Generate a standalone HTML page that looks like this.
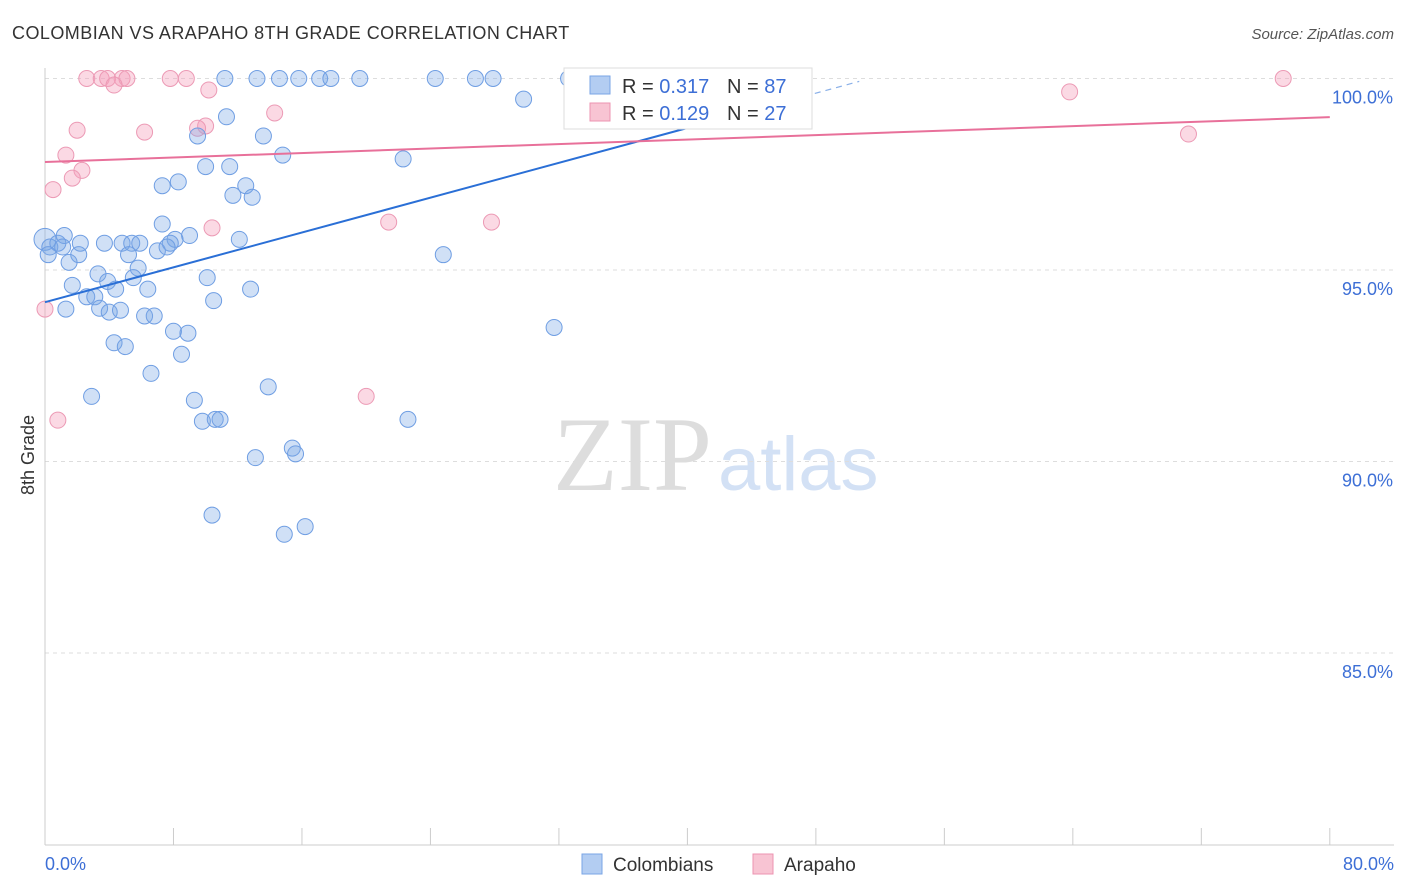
<!DOCTYPE html>
<html><head><meta charset="utf-8"><style>
body{margin:0;background:#fff;font-family:"Liberation Sans",sans-serif;}
#wrap{position:relative;width:1406px;height:892px;overflow:hidden;}
</style></head><body>
<div id="wrap">
<svg id="svg" width="1406" height="892" xmlns="http://www.w3.org/2000/svg">
<text x="12" y="39" font-size="18" fill="#333" letter-spacing="0.45">COLOMBIAN VS ARAPAHO 8TH GRADE CORRELATION CHART</text>
<text x="1394" y="39" font-size="15" fill="#555" font-style="italic" text-anchor="end">Source: ZipAtlas.com</text>
<text x="553" y="490" font-size="106" fill="#ddd" font-family="Liberation Serif,serif">ZIP</text>
<text x="718" y="490" font-size="76" fill="#d3e1f5">atlas</text>
<text transform="translate(34,455) rotate(-90)" font-size="18" fill="#333" text-anchor="middle">8th Grade</text>
<g id="grid"></g><g id="pts"></g><g id="lines"></g>
<g>
<rect x="564" y="68" width="248" height="61" fill="#fff" stroke="#ddd"/>
<rect x="590" y="76" width="20" height="18" fill="#b3cdf2" stroke="#7aa5e6"/>
<text x="622" y="93" font-size="20" fill="#333">R = <tspan fill="#3d6fd6">0.317</tspan></text>
<text x="727" y="93" font-size="20" fill="#333">N = <tspan fill="#3d6fd6">87</tspan></text>
<rect x="590" y="103" width="20" height="18" fill="#f8c4d3" stroke="#ec93b0"/>
<text x="622" y="120" font-size="20" fill="#333">R = <tspan fill="#3d6fd6">0.129</tspan></text>
<text x="727" y="120" font-size="20" fill="#333">N = <tspan fill="#3d6fd6">27</tspan></text>
</g>
<g>
<rect x="582" y="854" width="20" height="20" fill="#b3cdf2" stroke="#7aa5e6"/>
<text x="613" y="871" font-size="19" fill="#333">Colombians</text>
<rect x="753" y="854" width="20" height="20" fill="#f8c4d3" stroke="#ec93b0"/>
<text x="784" y="871" font-size="19" fill="#333">Arapaho</text>
</g>
</svg>
</div>
<script>
const blueX=[11.2,13.2,14.6,15.8,17.1,17.8,19.6,24.3,26.8,27.9,32.6,29.8,11.3,9.5,13.6,14.8,22.3,10.0,11.5,7.3,8.3,12.5,11.7,12.9,7.3,9.0,8.1,7.8,12.1,0,0.3,0.8,1.2,1.1,0.2,2.2,2.1,1.5,3.7,4.8,5.4,5.9,5.2,7.0,7.6,24.8,5.8,3.3,3.9,5.5,10.1,1.7,4.4,6.4,12.8,2.6,3.1,10.5,3.4,4.0,4.7,1.3,6.2,6.8,8.0,8.9,31.7,4.3,5.0,8.5,6.6,13.9,2.9,9.3,9.8,10.6,10.9,22.6,15.4,15.6,13.1,10.4,16.2,14.9];
const blueY=[100,100,100,100,100,100,100,100,100,100,100,99.46,99.0,98.5,98.5,98.0,97.9,97.7,97.7,97.2,97.3,97.2,96.95,96.9,96.2,95.9,95.8,95.7,95.8,95.8,95.6,95.7,95.9,95.6,95.4,95.7,95.4,95.2,95.7,95.7,95.7,95.7,95.4,95.5,95.6,95.4,95.05,94.9,94.7,94.8,94.8,94.6,94.5,94.5,94.5,94.3,94.3,94.2,94.0,93.9,93.95,93.98,93.8,93.8,93.4,93.35,93.5,93.1,93.0,92.8,92.3,91.95,91.7,91.6,91.05,91.1,91.1,91.1,90.35,90.2,90.1,88.6,88.3,88.1];
const pinkX=[2.6,3.5,3.9,4.8,5.1,7.8,8.8,4.3,10.2,77.1,63.8,14.3,2.0,6.2,10.0,9.5,71.2,1.3,2.3,1.7,0.5,21.4,27.8,10.4,0,0.8,20.0];
const pinkY=[100,100,100,100,100,100,100,99.83,99.7,100,99.65,99.1,98.65,98.6,98.76,98.7,98.55,98.0,97.6,97.4,97.1,96.25,96.25,96.1,93.98,91.08,91.7];
const blueTrend=[94.16,0.1137]; const pinkTrend=[97.82,0.01463];
const yTicks=[100,95,90,85]; const yTickLabels=["100.0%","95.0%","90.0%","85.0%"];
const xTicks=[0,8,16,24,32,40,48,56,64,72,80];
const NS="http://www.w3.org/2000/svg";
const sx=v=>45+v*16.06, sy=v=>78.5+(100-v)*38.3;
function mk(t,a,p){const e=document.createElementNS(NS,t);for(const k in a)e.setAttribute(k,a[k]);p.appendChild(e);return e;}
const g=document.getElementById('grid');
yTicks.forEach((t,i)=>{
 const l=mk('line',{x1:45,x2:1394,y1:sy(t),y2:sy(t),stroke:'#ddd','stroke-dasharray':'4,4'},g);
 
 
 const tx=mk('text',{x:1393,y:sy(t)+25,'font-size':18,fill:'#3d6fd6','text-anchor':'end'},g);
 tx.textContent=yTickLabels[i];
 
 
});
const ax=mk('line',{x1:45,x2:45,y1:68,y2:845,stroke:'#ccc'},g);


const bx=mk('line',{x1:45,x2:1394,y1:845,y2:845,stroke:'#ccc'},g);


xTicks.forEach(t=>{const l=mk('line',{x1:sx(t),x2:sx(t),y1:828,y2:845,stroke:'#ccc'},g);
 
 });
[[0,"0.0%",'start',45],[80,"80.0%",'end',1394]].forEach(a=>{const t=mk('text',{x:a[3],y:870,'font-size':18,fill:'#3d6fd6','text-anchor':a[2]},g);t.textContent=a[1];
 
 });
const P=document.getElementById('pts');
pinkX.forEach((x,i)=>{const c=mk('circle',{cx:sx(x),cy:sy(pinkY[i]),r:8,fill:'rgba(244,160,188,0.4)',stroke:'#ec9ab5','stroke-width':1},P);
 
 });
blueX.forEach((x,i)=>{const c=mk('circle',{cx:sx(x),cy:sy(blueY[i]),r:i==29?11:8,fill:'rgba(120,165,230,0.35)',stroke:'#6f9ee3','stroke-width':1},P);
 
 });
const L=document.getElementById('lines');
const b1=mk('line',{x1:sx(0),y1:sy(blueTrend[0]),x2:sx(40),y2:sy(blueTrend[0]+40*blueTrend[1]),stroke:'#2a6fd6','stroke-width':2},L);


const b2=mk('line',{x1:sx(40),y1:sy(blueTrend[0]+40*blueTrend[1]),x2:sx(50.7),y2:sy(blueTrend[0]+50.7*blueTrend[1]),stroke:'#8ab0e8','stroke-width':1.2,'stroke-dasharray':'6,5'},L);


const p1=mk('line',{x1:sx(0),y1:sy(pinkTrend[0]),x2:sx(80),y2:sy(pinkTrend[0]+80*pinkTrend[1]),stroke:'#e8709a','stroke-width':2},L);


</script>
</body></html>
